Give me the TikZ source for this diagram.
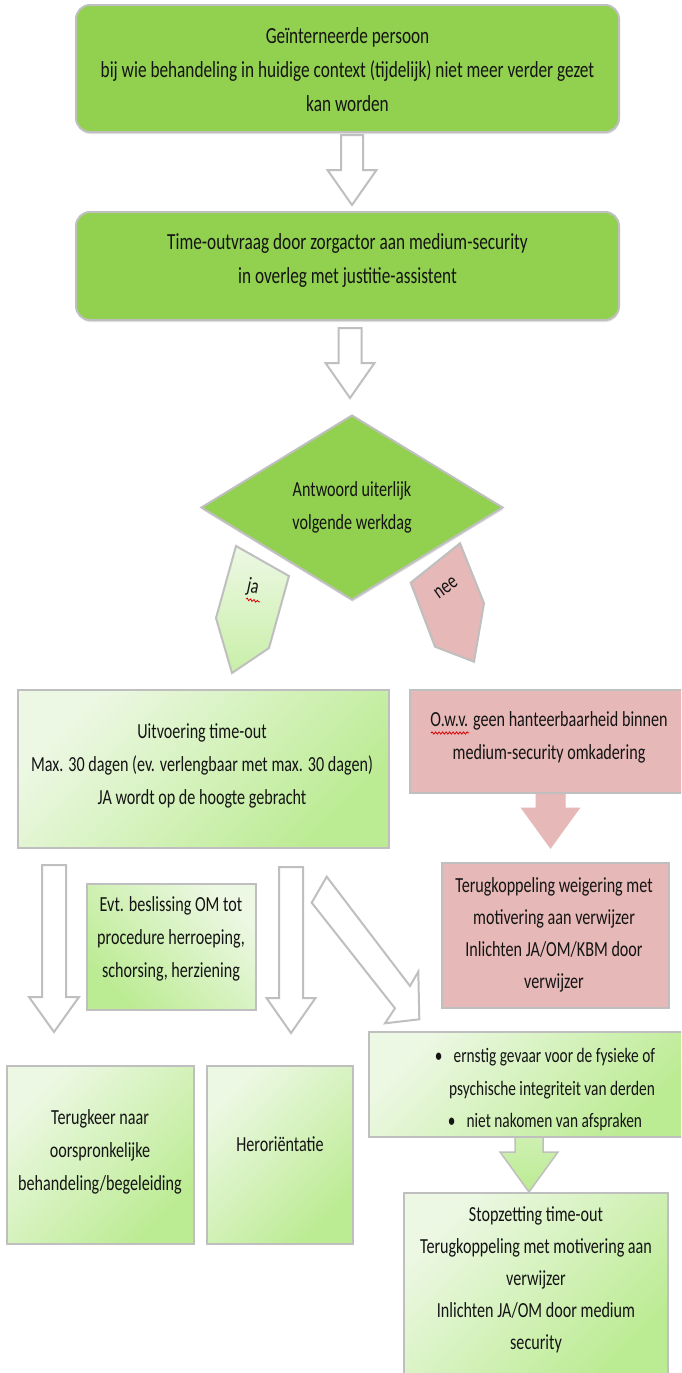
\documentclass[tikz,border=0pt]{standalone}
\usepackage{fontspec}
\setmainfont{Carlito}[FakeStretch=0.75]
\usetikzlibrary{shapes.geometric,shadows,decorations.pathmorphing}
\definecolor{dgreen}{HTML}{92D050}
\definecolor{lgA}{HTML}{EDF8E4}
\definecolor{lgB}{HTML}{BBEB92}
\definecolor{pinkc}{HTML}{E6B8B7}
\definecolor{bgray}{HTML}{BFBFBF}
\definecolor{inkc}{HTML}{141414}
% block arrow pointing down: style, cx, ytop, yheadstart, shaft half, head half, ytip
\newcommand\blkdown[7]{\draw[#1] ({#2-#5},#3) -- ({#2+#5},#3) -- ({#2+#5},#4) -- ({#2+#6},#4) -- (#2,#7) -- ({#2-#6},#4) -- ({#2-#5},#4) -- cycle;}
\begin{document}
\begin{tikzpicture}[x=1pt,y=-1pt,
  every node/.style={font=\fontsize{21.5}{33}\selectfont, text=inkc},
  txt/.style={align=center, inner sep=0pt},
  bigtxt/.style={txt, font=\fontsize{23}{34}\selectfont},
  shad/.style={drop shadow={opacity=0.22, shadow xshift=0.6pt, shadow yshift=-2pt}},
  rbox/.style={draw=bgray, line width=2pt, fill=dgreen, rounded corners=14pt, shad, inner sep=0pt},
  lbox/.style={draw=bgray, line width=2pt, top color=lgA, bottom color=lgB, shading angle=45, inner sep=0pt},
  lboxr/.style={draw=bgray, line width=2pt, top color=lgA, bottom color=lgB, shading angle=-45, inner sep=0pt},
  pbox/.style={draw=bgray, line width=2pt, fill=pinkc, inner sep=0pt},
  hol/.style={draw=bgray, line width=2pt, fill=white, line join=miter},
  squig/.style={red!85!black, line width=0.8pt, decorate, decoration={snake, amplitude=1.1pt, segment length=3.5pt}}
]
\clip (0,0) rectangle (681,1373);
\fill[white] (0,0) rectangle (681,1373);

% ---------- top part ----------
\node[rbox, minimum width=543pt, minimum height=127pt] (top) at (347.5,68.5) {};
\node[bigtxt] (toptxt) at (347.5,70) {Geïnterneerde persoon\\bij wie behandeling in huidige context (tijdelijk) niet meer verder gezet\\kan worden};

\blkdown{hol}{352}{135}{170}{11}{24.5}{205}

\node[rbox, minimum width=543pt, minimum height=108pt] (req) at (347.5,266) {};
\node[bigtxt] (reqtxt) at (347.5,260) {Time-outvraag door zorgactor aan medium-security\\in overleg met justitie-assistent};

\blkdown{hol}{350}{328}{363}{11.5}{24.5}{398}

\node[diamond, draw=bgray, line width=2pt, fill=dgreen, minimum width=302pt, minimum height=185pt, aspect=1.63, inner sep=0pt, align=center, shad] (dec) at (352,507.5) {Antwoord uiterlijk\\volgende werkdag};

% ja / nee pentagons
\draw[draw=bgray, line width=2pt, top color=lgA, bottom color=lgB!80!white] (236,546) -- (289,576) -- (269,648) -- (232,673) -- (216,618) -- cycle;
\node[txt, rotate=-12] (ja) at (253,587) {ja};
\draw[squig] (246,599) -- (260,602);

\draw[draw=bgray, line width=2pt, fill=pinkc] (410.7,582.7) -- (460,543.3) -- (484,603.3) -- (474,661.7) -- (435,646.7) -- cycle;
\node[txt, rotate=35] (nee) at (446,588) {nee};

% ---------- pink branch ----------
\blkdown{fill=pinkc, draw=pinkc, line width=1pt}{550.5}{790}{808}{14.5}{29}{848}
\node[pbox, minimum width=275pt, minimum height=103pt] (owv) at (547.5,741.5) {};
\node[txt] (owvtxt) at (549,737) {O.w.v. geen hanteerbaarheid binnen\\medium-security omkadering};
\draw[squig] (431,733) -- (469,733);

\node[pbox, minimum width=227pt, minimum height=145pt] (weig) at (555.5,935.5) {};
\node[txt, font=\fontsize{21.5}{32}\selectfont] (weigtxt) at (554,935) {Terugkoppeling weigering met\\motivering aan verwijzer\\Inlichten JA/OM/KBM door\\verwijzer};

% ---------- green branch ----------
\node[lbox, minimum width=371pt, minimum height=158pt] (uitv) at (203.5,769) {};
\node[txt] (uitvtxt) at (202,766) {Uitvoering time-out\\Max. 30 dagen (ev. verlengbaar met max. 30 dagen)\\JA wordt op de hoogte gebracht};

\node[lboxr, minimum width=169pt, minimum height=126pt] (evt) at (171.5,947) {};
\node[txt] (evttxt) at (171,939) {Evt. beslissing OM tot\\procedure herroeping,\\schorsing, herziening};

\blkdown{hol}{54}{865}{997}{12}{25}{1032}
\blkdown{hol}{291}{867}{998}{12}{24.5}{1033}
\draw[hol] (326.7,876.7) -- (410,986) -- (418.3,971.7) -- (419.3,1019.3) -- (385,1023.3) -- (395,1008.3) -- (311.7,902.7) -- cycle;

\node[lbox, minimum width=187pt, minimum height=178pt] (terug) at (100.5,1155) {};
\node[txt] (terugtxt) at (100,1152) {Terugkeer naar\\oorspronkelijke\\behandeling/begeleiding};

\node[lbox, minimum width=146pt, minimum height=178pt] (herori) at (280,1155) {};
\node[txt] (heroritxt) at (280,1144) {Heroriëntatie};

\blkdown{draw=bgray, line width=1.5pt, top color=lgA!40!lgB, bottom color=lgB}{529}{1135}{1152}{14}{29}{1192}
\node[lbox, minimum width=316pt, minimum height=105pt] (crit) at (527,1084.5) {};
\node[txt, font=\fontsize{20.5}{32.5}\selectfont] (crittxt) at (545,1090) {\textbullet\hspace{11pt}ernstig gevaar voor de fysieke of\\\hspace{14pt}psychische integriteit van derden\\\textbullet\hspace{11pt}niet nakomen van afspraken};

\node[lbox, minimum width=264pt, minimum height=187pt] (stop) at (536,1286.5) {};
\node[txt, font=\fontsize{21.5}{32}\selectfont] (stoptxt) at (536,1280) {Stopzetting time-out\\Terugkoppeling met motivering aan\\verwijzer\\Inlichten JA/OM door medium\\security};
\end{tikzpicture}
\end{document}
